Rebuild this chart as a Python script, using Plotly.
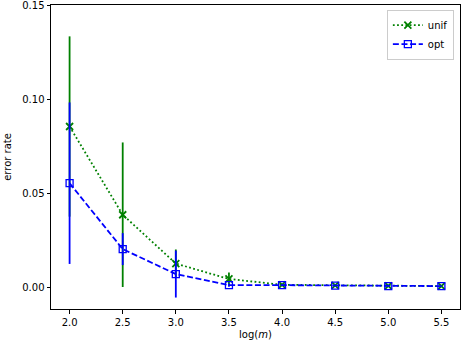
import plotly.graph_objects as go

log_m = [2.0, 2.5, 3.0, 3.5, 4.0, 4.5, 5.0, 5.5]
unif_err = [0.0855, 0.0385, 0.0125, 0.0043, 0.0012, 0.0009, 0.0006, 0.0005]
unif_std = [0.048, 0.0385, 0.0075, 0.0035, 0.0005, 0.0003, 0.0002, 0.0002]
opt_err = [0.0553, 0.0202, 0.0069, 0.0010, 0.0010, 0.0008, 0.0005, 0.0005]
opt_std = [0.0430, 0.0085, 0.0125, 0.0008, 0.0004, 0.0003, 0.0002, 0.0002]

fig = go.Figure()
fig.add_trace(go.Scatter(
    x=log_m, y=unif_err, name="unif", mode="lines+markers",
    line=dict(color="green", width=1.8, dash="1.8px,2.4px"),
    marker=dict(symbol="x-thin-open", size=7, color="green", line=dict(color="green", width=1.8)),
    error_y=dict(type="data", array=unif_std, visible=True, color="green", thickness=1.8, width=0),
))
fig.add_trace(go.Scatter(
    x=log_m, y=opt_err, name="opt", mode="lines+markers",
    line=dict(color="blue", width=1.8, dash="6px,2.6px"),
    marker=dict(symbol="square-open", size=7, color="blue", line=dict(color="blue", width=1.3)),
    error_y=dict(type="data", array=opt_std, visible=True, color="blue", thickness=1.8, width=0),
))

axis_common = dict(
    showline=True, linecolor="black", linewidth=1, mirror=True,
    ticks="outside", ticklen=3.5, tickwidth=1, tickcolor="black",
    showgrid=False, zeroline=False, automargin=False, ticklabeloverflow="allow",
    tickfont=dict(family="DejaVu Sans", size=10, color="black"),
)
fig.update_layout(
    width=462, height=346,
    margin=dict(l=51, r=2, t=5, b=37),
    paper_bgcolor="white", plot_bgcolor="white",
    font=dict(family="DejaVu Sans", size=10, color="black"),
    xaxis=dict(range=[1.825, 5.675], tickvals=log_m, tickformat=".1f",
               title=dict(text="log(<i>m</i>)", standoff=4, font=dict(size=10)), **axis_common),
    yaxis=dict(range=[-0.0117, 0.1502], tickvals=[0.0, 0.05, 0.10, 0.15], tickformat=".2f",
               title=dict(text="error rate", standoff=8, font=dict(size=10)), **axis_common),
    legend=dict(x=0.985, y=0.985, xanchor="right", yanchor="top",
                bordercolor="#cccccc", borderwidth=1, bgcolor="rgba(255,255,255,0.8)",
                font=dict(size=10), tracegroupgap=0, itemwidth=30),
    showlegend=True,
)
fig.write_html("out.html", config={"displayModeBar": False},
               post_script="document.body.style.margin='0';document.body.style.overflow='hidden';")
